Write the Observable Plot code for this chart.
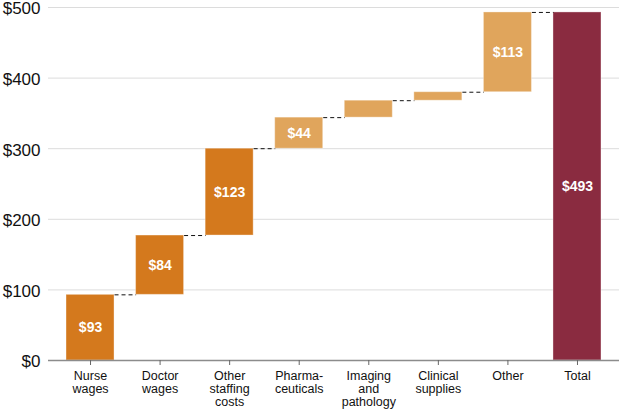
<!DOCTYPE html>
<html>
<head>
<meta charset="utf-8">
<script src="https://cdn.jsdelivr.net/npm/d3@7"></script>
<script src="https://cdn.jsdelivr.net/npm/@observablehq/plot@0.6"></script>
<style>
  html, body { margin: 0; padding: 0; background: #fff; }
  #chart { width: 628px; height: 411px; }
</style>
</head>
<body>
<div id="chart"></div>
<script>
const categories = ["Nurse\nwages", "Doctor\nwages", "Other\nstaffing\ncosts", "Pharma-\nceuticals", "Imaging\nand\npathology", "Clinical\nsupplies", "Other", "Total"];
const values = [93, 84, 123, 44, 24, 12, 113, 493];
const groups = ["staff", "staff", "staff", "other", "other", "other", "other", "total"];
const showLabel = [true, true, true, true, false, false, true, true];
const yTicks = [0, 100, 200, 300, 400, 500];

const colors = { staff: "#D4791D", other: "#E0A55C", total: "#8A2B40" };
const half = 0.345;

let run = 0;
const data = categories.map((c, i) => {
  let start, end;
  if (groups[i] === "total") { start = 0; end = values[i]; }
  else { start = run; end = run + values[i]; run = end; }
  return { i, name: c, value: values[i], start, end, group: groups[i], label: showLabel[i] };
});
const connectors = data.slice(0, -1).map(d => ({ x1: d.i + half, x2: d.i + 1 - half, y: d.end }));

const plot = Plot.plot({
  width: 628,
  height: 411,
  marginTop: 7,
  marginBottom: 51,
  marginLeft: 48,
  marginRight: 9,
  style: { fontFamily: "Liberation Sans, Arial, sans-serif", background: "#fff", overflow: "visible" },
  x: { type: "linear", domain: [-0.604, 7.604], axis: null },
  y: { domain: [0, 500], axis: null },
  marks: [
    Plot.ruleY(yTicks.filter(t => t > 0), { stroke: "#dcdcdc", strokeWidth: 1 }),
    Plot.rectY(data, {
      x1: d => d.i - half, x2: d => d.i + half, y1: "start", y2: "end",
      fill: d => colors[d.group], stroke: "#fff", strokeOpacity: 0.35, strokeWidth: 1
    }),
    Plot.link(connectors, {
      x1: "x1", x2: "x2", y1: "y", y2: "y",
      stroke: "#111", strokeWidth: 1, strokeDasharray: "4,3"
    }),
    Plot.text(data.filter(d => d.label), {
      x: "i", y: d => (d.start + d.end) / 2, text: d => "$" + d.value,
      fill: "#fff", fontSize: 14, fontWeight: "bold"
    }),
    Plot.ruleY([0], { stroke: "#8c8c8c", strokeWidth: 1.5 }),
    Plot.axisY({
      ticks: yTicks, tickFormat: d => "$" + d, tickSize: 0, tickPadding: 8,
      fontSize: 17, fill: "#111", dy: 1.5
    }),
    Plot.axisX({
      ticks: d3.range(categories.length), tickFormat: i => categories[i],
      tickSize: 5, tickPadding: 5, stroke: "#666", fill: "#111",
      fontSize: 12.5, lineHeight: 1.05
    })
  ]
});
document.getElementById("chart").appendChild(plot);
</script>
</body>
</html>
